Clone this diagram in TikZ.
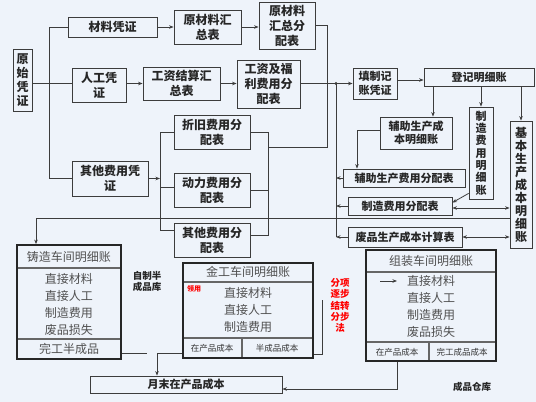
\documentclass[tikz,border=0pt]{standalone}
\usepackage{fontspec}
\newfontfamily\cjk{Noto Sans CJK SC}
\usetikzlibrary{arrows.meta}
\definecolor{bg}{RGB}{238,243,250}
\definecolor{ln}{RGB}{60,60,60}
\definecolor{gtxt}{RGB}{80,80,80}
\tikzset{
 box/.style={draw=ln, line width=0.8pt, inner sep=0pt, align=center, text=black!85,
   font=\cjk\bfseries\fontsize{12}{15}\selectfont},
 fs11/.style={font=\cjk\bfseries\fontsize{11}{13.5}\selectfont},
 wire/.style={draw=ln, line width=0.8pt},
 arr/.style={wire, -{Stealth[length=4.5pt,width=3.5pt]}},
 darr/.style={wire, {Stealth[length=4.5pt,width=3.5pt]}-{Stealth[length=4.5pt,width=3.5pt]}},
 ledger/.style={draw=black!85, line width=1.8pt, inner sep=0pt},
 sepline/.style={draw=black!60, line width=1.2pt},
 ltxt/.style={font=\cjk\fontsize{12}{14}\selectfont, text=gtxt, inner sep=0pt},
 ftxt/.style={font=\cjk\fontsize{8.5}{10}\selectfont, text=black!80, inner sep=0pt},
 note/.style={font=\cjk\bfseries\fontsize{9.5}{11}\selectfont, align=center, inner sep=0pt, text=black!85},
}
\begin{document}
\begin{tikzpicture}[x=1pt,y=-1pt]
\fill[bg] (0,0) rectangle (536,402);
\useasboundingbox (0,0) rectangle (536,402);

% flow boxes
\node[box, minimum width=19pt, minimum height=62pt, font=\cjk\bfseries\fontsize{12}{14}\selectfont] (ys) at (22.5,80) {原\\始\\凭\\证};
\node[box, minimum width=89pt, minimum height=20pt] (cl) at (112.5,27) {材料凭证};
\node[box, minimum width=67pt, minimum height=34pt] (ych) at (207.5,27) {原材料汇\\总表};
\node[box, minimum width=56pt, minimum height=47pt] (ycf) at (287,25.5) {原材料\\汇总分\\配表};
\node[box, minimum width=54pt, minimum height=34pt] (rg) at (99,85) {人工凭\\证};
\node[box, minimum width=77pt, minimum height=33pt] (gz) at (181.5,83.5) {工资结算汇\\总表};
\node[box, minimum width=63pt, minimum height=48pt] (gf) at (268.5,84) {工资及福\\利费用分\\配表};
\node[box, fs11, minimum width=44pt, minimum height=31pt] (tz) at (375,83.5) {填制记\\账凭证};
\node[box, fs11, minimum width=110pt, minimum height=18pt] (dj) at (479,77) {登记明细账};
\node[box, fs11, minimum width=72pt, minimum height=32pt] (fz) at (416,133) {辅助生产成\\本明细账};
\node[box, minimum width=24pt, minimum height=92pt, font=\cjk\bfseries\fontsize{11}{12.3}\selectfont] (zz) at (481,153) {制\\造\\费\\用\\明\\细\\账};
\node[box, minimum width=22pt, minimum height=127pt, font=\cjk\bfseries\fontsize{12}{13}\selectfont] (jb) at (521,184.5) {基\\本\\生\\产\\成\\本\\明\\细\\账};
\node[box, fs11, minimum width=122pt, minimum height=18pt] (fzb) at (404,178) {辅助生产费用分配表};
\node[box, fs11, minimum width=104pt, minimum height=18pt] (zzb) at (400,206) {制造费用分配表};
\node[box, fs11, minimum width=114pt, minimum height=20pt] (fp) at (405,237) {废品生产成本计算表};
\node[box, minimum width=76pt, minimum height=35pt] (qt) at (110,178.5) {其他费用凭\\证};
\node[box, minimum width=76pt, minimum height=34pt] (zj) at (212,132) {折旧费用分\\配表};
\node[box, minimum width=76pt, minimum height=34pt] (dl) at (212,190) {动力费用分\\配表};
\node[box, minimum width=76pt, minimum height=34pt] (qf) at (212,240) {其他费用分\\配表};
\node[box, fs11, minimum width=192pt, minimum height=17pt] (ym) at (186,384.5) {月末在产品成本};

% ledgers
\node[ledger, minimum width=104pt, minimum height=114pt] (zhu) at (69,302) {};
\draw[sepline] (18,268) -- (120,268);
\draw[sepline] (18,339) -- (120,339);
\node[ltxt] (zhu0) at (69,257) {铸造车间明细账};
\node[ltxt] (zhu1) at (69,279) {直接材料};
\node[ltxt] (zhu2) at (69,296) {直接人工};
\node[ltxt] (zhu3) at (69,313) {制造费用};
\node[ltxt] (zhu4) at (69,330) {废品损失};
\node[ltxt] (zhu5) at (69,349) {完工半成品};

\node[ledger, minimum width=130pt, minimum height=95pt] (jg) at (248,310.5) {};
\draw[sepline] (184,282) -- (312,282);
\draw[sepline] (184,338) -- (312,338);
\draw[sepline] (242,338) -- (242,357);
\node[ltxt] (jg0) at (248,272) {金工车间明细账};
\node[inner sep=0pt, text=red, font=\cjk\bfseries\fontsize{7}{8}\selectfont] (jgr) at (194,289) {领用};
\node[ltxt] (jg1) at (248,293) {直接材料};
\node[ltxt] (jg2) at (248,310) {直接人工};
\node[ltxt] (jg3) at (248,327) {制造费用};
\node[ftxt] (jg4) at (212,348) {在产品成本};
\node[ftxt] (jg5) at (277,348) {半成品成本};

\node[ledger, minimum width=130pt, minimum height=111pt] (zz2) at (431,305.5) {};
\draw[sepline] (367,272) -- (495,272);
\draw[sepline] (367,342) -- (495,342);
\draw[sepline] (429,342) -- (429,360);
\node[ltxt] (zz20) at (431,261) {组装车间明细账};
\node[ltxt] (zz21) at (431,281) {直接材料};
\node[ltxt] (zz22) at (431,298) {直接人工};
\node[ltxt] (zz23) at (431,315) {制造费用};
\node[ltxt] (zz24) at (431,332) {废品损失};
\node[ftxt] (zz25) at (397,352) {在产品成本};
\node[ftxt] (zz26) at (462,352) {完工成品成本};

% notes
\node[note, font=\cjk\bfseries\fontsize{9.5}{11}\selectfont] (zzk) at (147,281) {自制半\\成品库};
\node[note, text=red, font=\cjk\bfseries\fontsize{9.5}{11.2}\selectfont] (fx) at (340,305.5) {分项\\逐步\\结转\\分步\\法};
\node[note] (cpk) at (472,387) {成品仓库};

% connectors
\coordinate (b1) at (49,0);
\draw[wire] (cl.west) -- (cl.west -| b1) -- (qt.west -| b1) -- (qt.west);
\draw[wire] (ys.east |- gz.west) -- (rg.west |- gz.west);
\draw[arr] (cl.east) -- (ych.west);
\draw[arr] (ych.east) -- (ych.east -| ycf.west);
\draw[arr] (gz.west -| rg.east) -- (gz.west);
\draw[arr] (gz.east) -- (gz.east -| gf.west);
\draw[arr] (gf.east |- tz.west) -- (tz.west);
\draw[arr] ([yshift=3.5pt]tz.east) -- ([yshift=3.5pt]tz.east -| dj.west);

\coordinate (b2) at (268,0);
\coordinate (c327) at (327,147);
\draw[wire] (ycf.east) -- (ycf.east -| c327) -- (c327) -- (c327 -| b2);
\draw[wire] (zj.east) -- (zj.east -| b2) -- ([yshift=5pt]qf.east -| b2) -- ([yshift=5pt]qf.east);
\draw[wire] (dl.east) -- (dl.east -| b2);

\coordinate (b4) at (160,0);
\draw[arr] (qt.east) -- (qt.east -| b4);
\draw[wire] (zj.west) -- (zj.west -| b4) -- ([yshift=10pt]qf.west -| b4) -- ([yshift=10pt]qf.west);
\draw[wire] ([yshift=3pt]dl.west) -- ([yshift=3pt]dl.west -| b4);

\coordinate (b3) at (336,0);
\draw[wire] (tz.west -| b3) -- (fp.west -| b3);
\fill[ln] (tz.west -| b3) circle (1.6pt);
\draw[arr] (fzb.west) -- (fzb.west -| b3);
\draw[arr] (zzb.west) -- (zzb.west -| b3);
\draw[arr] (fp.west) -- (fp.west -| b3);

\coordinate (d1) at (433,0);
\draw[arr] (dj.south -| d1) -- (fz.north -| d1);
\draw[arr] (dj.south -| zz.north) -- (zz.north);
\draw[arr] (dj.south -| jb.north) -- (jb.north);
\coordinate (d2) at (357,0);
\draw[arr] ([yshift=3pt]fz.west) -- ([yshift=3pt]fz.west -| d2) -- (fzb.north -| d2);
\draw[arr] ([yshift=6pt]zz.south west) -- ([yshift=-6pt]zzb.north east);
\draw[darr] ([yshift=-2pt]zzb.east) -- ([yshift=-2pt]zzb.east -| jb.west);
\draw[darr] (fp.east) -- (fp.east -| jb.west);

\coordinate (l1) at (36,218);
\draw[arr] (jb.west |- l1) -- (l1) -- (l1 |- zhu.north);

\coordinate (z1) at (147,353);
\draw[wire] (zhu.east |- z1) -- (z1);
\coordinate (z2) at (157,353);
\draw[arr] (jg.west |- z2) -- (z2) -- (z2 |- ym.north);
\coordinate (z3) at (322,354);
\coordinate (z4) at (322,300);
\draw[wire] (jg.east |- z3) -- (z3) -- (z4);
\coordinate (z5) at (397,389);
\draw[arr] (z5 |- zz2.south) -- (z5) -- (ym.east |- z5);
\coordinate (a1) at (380,281);
\coordinate (a2) at (397,281);
\draw[arr] (a1) -- (a2);
\end{tikzpicture}
\end{document}
